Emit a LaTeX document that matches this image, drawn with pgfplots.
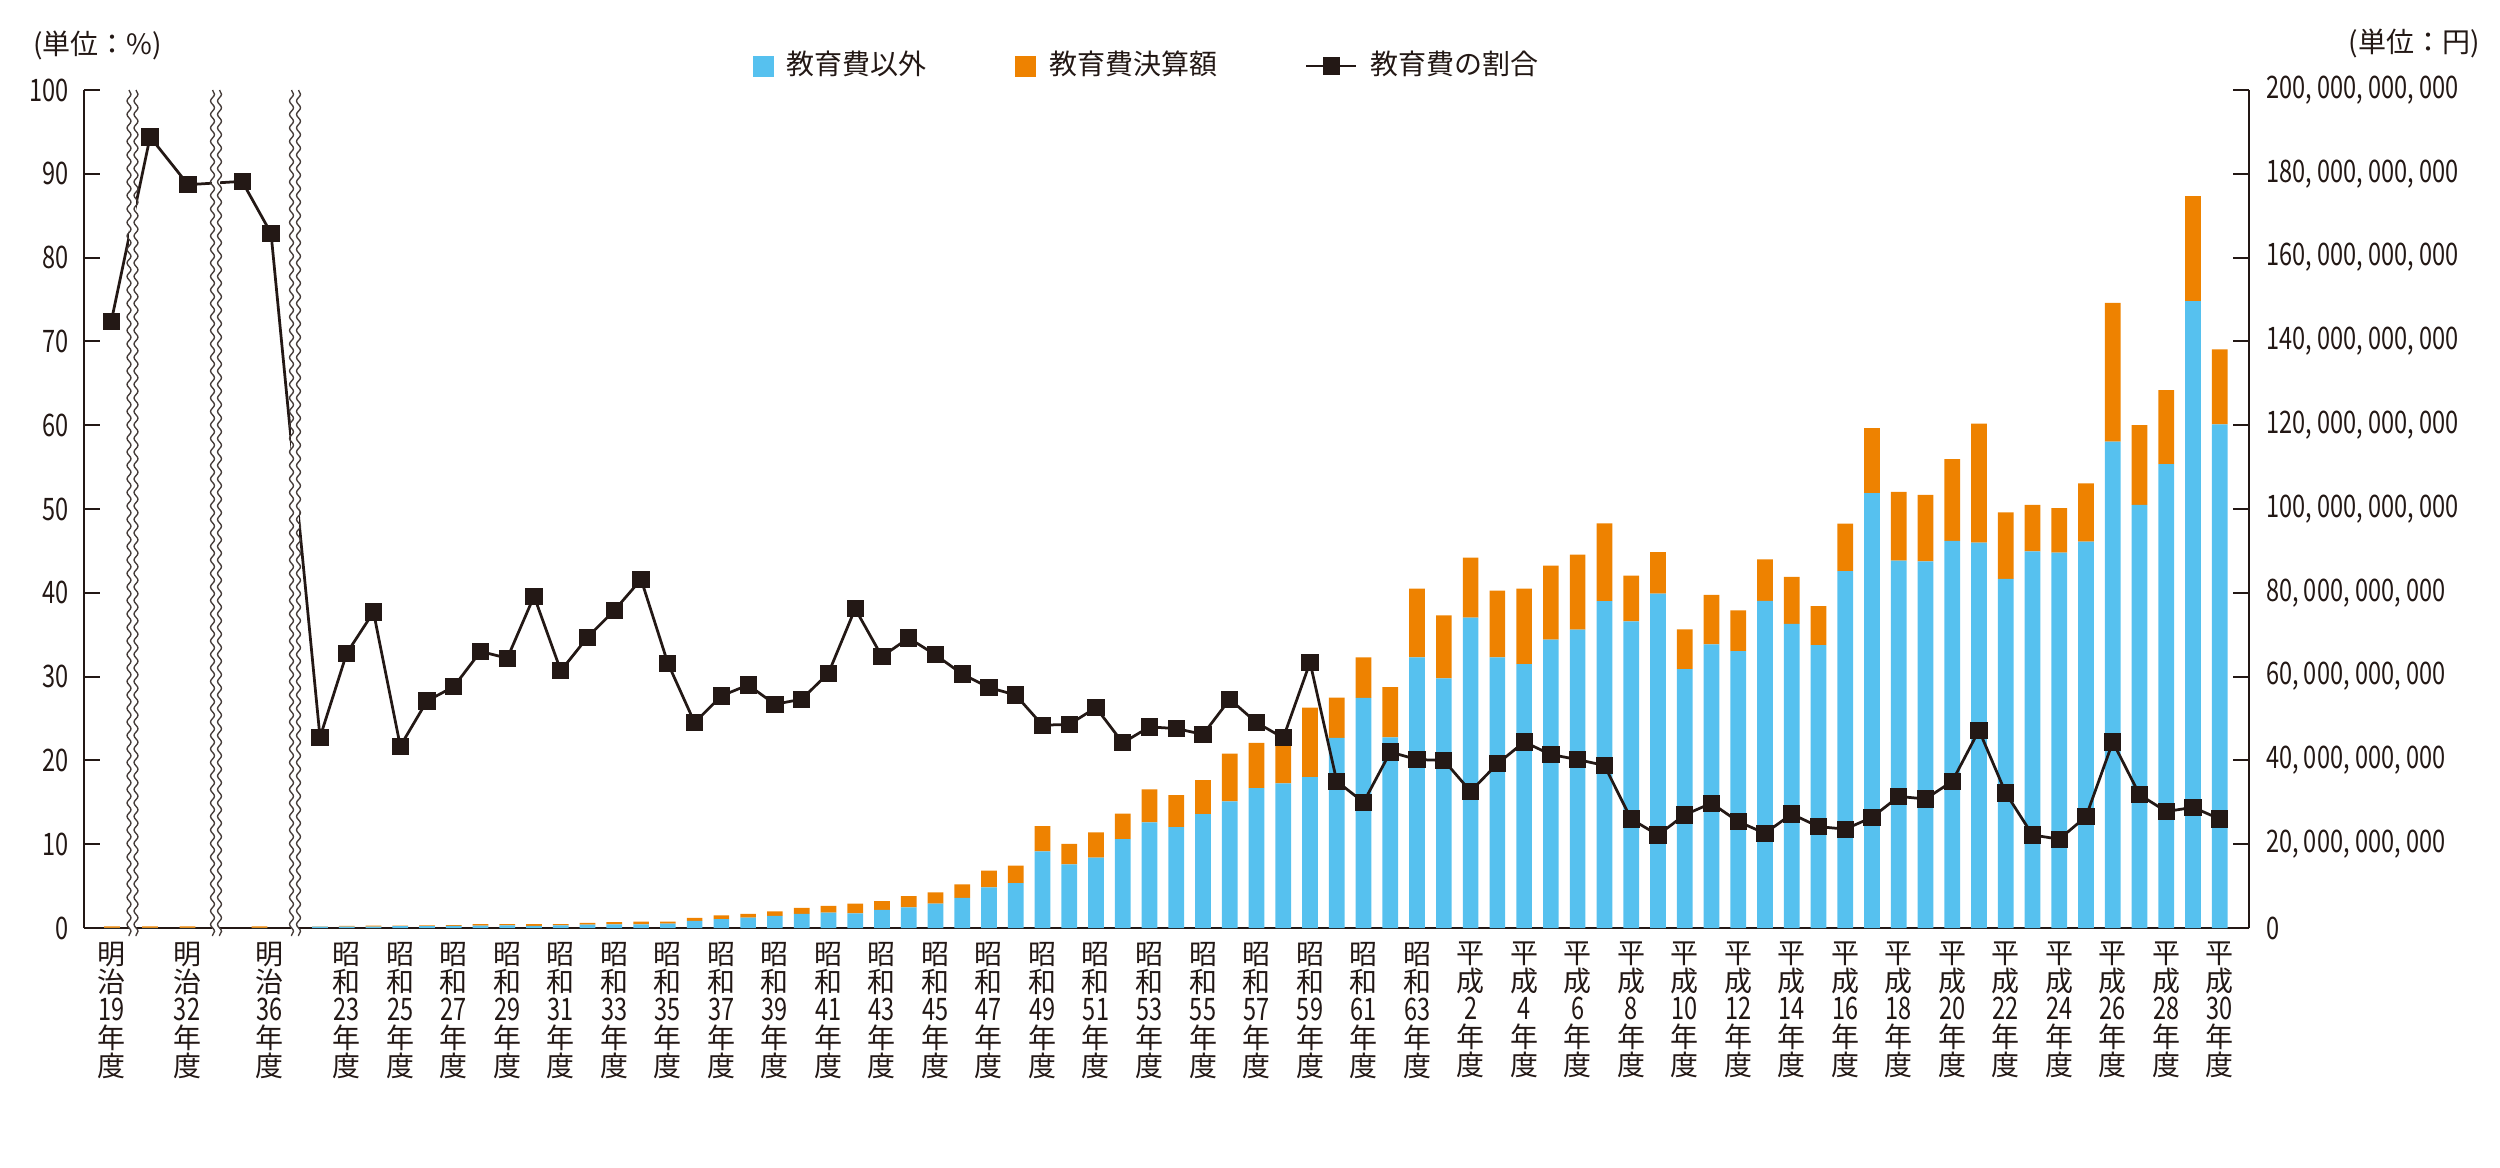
\documentclass[border=0pt]{standalone}
\usepackage{fontspec}
\setmainfont{Noto Sans CJK JP}
\newfontfamily\numf{Noto Sans CJK JP}[FakeStretch=0.76]
\usepackage{pgfplots}
\pgfplotsset{compat=1.18}
\usepackage{pgfplotstable}
\usetikzlibrary{decorations.pathmorphing}

\definecolor{cblue}{HTML}{56C1EF}
\definecolor{corange}{HTML}{EE8200}
\definecolor{cblack}{HTML}{231815}

% bars: x index (Showa 22 = 0), b = 教育費以外 (10^9 yen), o = 教育費決算額 (10^9 yen)
\pgfplotstableread{
x b o
-7.77 0.05 0.35
-6.35 0.05 0.35
-4.95 0.05 0.35
-2.26 0.05 0.35
0 0.31 0.09
1 0.34 0.16
2 0.34 0.21
3 0.47 0.13
4 0.47 0.18
5 0.50 0.20
6 0.60 0.30
7 0.61 0.29
8 0.54 0.36
9 0.66 0.29
10 0.78 0.42
11 0.87 0.53
12 0.88 0.62
13 1.03 0.47
14 1.7 0.7
15 2.1 0.9
16 2.5 0.9
17 2.9 1.1
18 3.4 1.4
19 3.7 1.6
20 3.5 2.3
21 4.3 2.1
22 4.9 2.7
23 5.8 2.7
24 7.2 3.2
25 9.7 4.0
26 10.7 4.2
27 18.3 6.0
28 15.2 4.9
29 16.8 6.0
30 21.2 6.1
31 25.2 7.9
32 24.1 7.6
33 27.2 8.1
34 30.2 11.4
35 33.4 10.8
36 34.5 10.3
37 36.0 16.6
38 45.4 9.6
39 54.9 9.7
40 45.5 12.0
41 64.6 16.4
42 59.6 15.0
43 74.1 14.3
44 64.6 15.9
45 63.0 18.0
46 68.8 17.7
47 71.2 17.9
48 78.0 18.6
49 73.2 10.9
50 79.8 9.9
51 61.8 9.5
52 67.7 11.8
53 66.1 9.7
54 78.1 9.9
55 72.6 11.2
56 67.5 9.3
57 85.2 11.3
58 103.8 15.5
59 87.7 16.4
60 87.5 15.9
61 92.4 19.5
62 92.0 28.4
63 83.3 15.9
64 89.9 11.1
65 89.6 10.6
66 92.2 13.9
67 116.1 33.1
68 101.0 19.0
69 110.7 17.7
70 149.6 25.1
71 120.2 17.9
}\bars

% ratio of education expense (%)
\pgfplotstableread{
x r
-7.8 72.4
-6.35 94.4
-4.93 88.7
-2.91 89.1
-1.83 82.9
0 22.75
1 32.8
2 37.7
3 21.7
4 27.1
5 28.8
6 33.0
7 32.2
8 39.6
9 30.7
10 34.7
11 37.9
12 41.6
13 31.6
14 24.5
15 27.7
16 29.0
17 26.7
18 27.3
19 30.4
20 38.1
21 32.4
22 34.6
23 32.6
24 30.3
25 28.7
26 27.8
27 24.2
28 24.3
29 26.3
30 22.1
31 24.0
32 23.8
33 23.1
34 27.3
35 24.5
36 22.7
37 31.7
38 17.5
39 15.0
40 21.0
41 20.1
42 20.0
43 16.3
44 19.6
45 22.2
46 20.7
47 20.1
48 19.4
49 13.0
50 11.1
51 13.5
52 14.9
53 12.7
54 11.3
55 13.6
56 12.1
57 11.8
58 13.2
59 15.7
60 15.4
61 17.5
62 23.6
63 16.1
64 11.1
65 10.6
66 13.3
67 22.2
68 15.9
69 13.9
70 14.4
71 13.0
}\ratio

\newcommand\ML[1]{明\\治\\{\fontsize{6.2}{5.6}\numf #1}\\年\\度}
\newcommand\SL[1]{昭\\和\\{\fontsize{6.2}{5.6}\numf #1}\\年\\度}
\newcommand\HL[1]{平\\成\\{\fontsize{6.2}{5.6}\numf #1}\\年\\度}

\pgfplotsset{
  common/.style={
    at={(0pt,0pt)}, anchor=south west, scale only axis,
    width=433pt, height=167.6pt,
    xmin=-8.82, xmax=72.09, ymin=0,
    axis line style={cblack, line width=0.4pt},
    tick align=inside, major tick length=3.2pt,
    tick style={cblack, line width=0.4pt},
  },
  shortline legend/.style={legend image code/.code={%
    \draw[mark repeat=2,mark phase=2,##1] plot coordinates {(0pt,0pt) (5pt,0pt) (10pt,0pt)};}},
  blue legend/.style={legend image code/.code={\fill[cblue] (0pt,-1.9pt) rectangle (3.8pt,1.9pt);}},
  orange legend/.style={legend image code/.code={\fill[corange] (0pt,-1.9pt) rectangle (3.8pt,1.9pt);}},
}
\tikzset{
  brk/.style={cblack!85, line width=0.27pt, decorate,
    decoration={snake, amplitude=0.4pt, segment length=2.7pt}},
}

\newcommand\brk[1]{%
  \fill[white] ([xshift=-0.75pt]axis cs:#1,100) rectangle ([xshift=0.75pt,yshift=-1.6pt]axis cs:#1,0);
  \draw[brk] ([xshift=-0.7pt]axis cs:#1,100) -- ([xshift=-0.7pt,yshift=-1.6pt]axis cs:#1,0);
  \draw[brk] ([xshift=0.7pt]axis cs:#1,100) -- ([xshift=0.7pt,yshift=-1.6pt]axis cs:#1,0);
}

\begin{document}
\begin{tikzpicture}
\useasboundingbox (-16.8pt,-47.8pt) rectangle (483.2pt,185.6pt);
\begin{axis}[common,
  ymax=200,
  axis x line*=bottom, axis y line*=right,
  ybar stacked, bar width=3.14pt,
  ytick={0,20,40,60,80,100,120,140,160,180,200},
  yticklabels={0,{20, 000, 000, 000},{40, 000, 000, 000},{60, 000, 000, 000},{80, 000, 000, 000},{100, 000, 000, 000},{120, 000, 000, 000},{140, 000, 000, 000},{160, 000, 000, 000},{180, 000, 000, 000},{200, 000, 000, 000}},
  yticklabel style={font=\fontsize{6.2}{7}\numf, text=cblack, inner sep=0pt, xshift=3.2pt},
  xtick={-7.8,-4.97,-1.87,1,3,5,7,9,11,13,15,17,19,21,23,25,27,29,31,33,35,37,39,41,43,45,47,49,51,53,55,57,59,61,63,65,67,69,71},
  xticklabels={\ML{19},\ML{32},\ML{36},\SL{23},\SL{25},\SL{27},\SL{29},\SL{31},\SL{33},\SL{35},\SL{37},\SL{39},\SL{41},\SL{43},\SL{45},\SL{47},\SL{49},\SL{51},\SL{53},\SL{55},\SL{57},\SL{59},\SL{61},\SL{63},\HL{2},\HL{4},\HL{6},\HL{8},\HL{10},\HL{12},\HL{14},\HL{16},\HL{18},\HL{20},\HL{22},\HL{24},\HL{26},\HL{28},\HL{30}},
  xticklabel style={font=\fontsize{5.6}{5.6}\selectfont, text=cblack, align=center, inner sep=0pt, anchor=north, yshift=-2.6pt},
  major x tick style={draw=none},
]
\addplot[fill=cblue, draw=none] table[x=x,y=b]{\bars};
\addplot[fill=corange, draw=none] table[x=x,y=o]{\bars};
\end{axis}
\begin{axis}[common,
  ymax=100,
  axis x line=none, axis y line*=left,
  xtick=\empty,
  ytick={0,10,20,30,40,50,60,70,80,90,100},
  yticklabels={0,10,20,30,40,50,60,70,80,90,100},
  yticklabel style={font=\fontsize{6.2}{7}\numf, text=cblack, inner sep=0pt, xshift=-2.8pt},
  clip=false,
  legend columns=3,
  legend style={draw=none, fill=none, inner sep=0pt, outer sep=0pt,
    at={(rel axis cs:0.309,1.0286)}, anchor=west,
    font=\fontsize{5.6}{6}\selectfont, text=cblack,
    nodes={inner sep=0pt},
    /tikz/every odd column/.append style={column sep=2.6pt},
    /tikz/every even column/.append style={column sep=17.6pt}},
]
\addlegendimage{blue legend}
\addlegendentry{教育費以外}
\addlegendimage{orange legend}
\addlegendentry{教育費決算額}
\addplot[cblack, line width=0.55pt, mark=square*, mark size=1.45pt, mark options={solid, fill=cblack}, shortline legend]
  table[x=x,y=r]{\ratio};
\addlegendentry{教育費の割合}
\brk{-7.007}
\brk{-3.886}
\brk{-0.934}
\node[anchor=west, inner sep=0pt, text=cblack, font=\fontsize{5.6}{7}\selectfont] at (rel axis cs:-0.024,1.0537) {(単位：\%)};
\node[anchor=east, inner sep=0pt, text=cblack, font=\fontsize{5.6}{7}\selectfont] at (rel axis cs:1.107,1.056) {(単位：円)};
\end{axis}
\end{tikzpicture}
\end{document}
